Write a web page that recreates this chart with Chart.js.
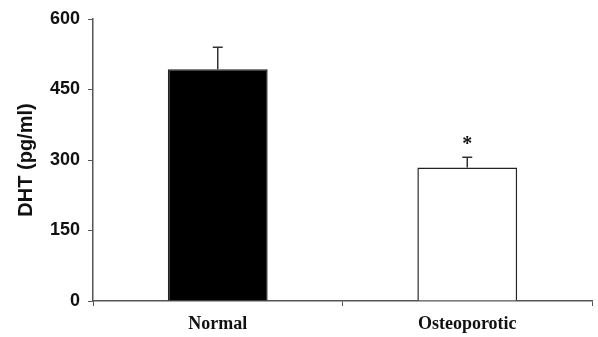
<!DOCTYPE html>
<html>
<head>
<meta charset="utf-8">
<script src="https://cdn.jsdelivr.net/npm/chart.js@4"></script>
<style>
  html, body { margin: 0; padding: 0; background: #fff; }
  #wrap { width: 598px; height: 337px; }
</style>
</head>
<body>
<div id="wrap"><canvas id="dhtChart"></canvas></div>
<script>
// values
const groups = ['Normal', 'Osteoporotic'];
const dhtMean = [493, 284];
const dhtError = [47, 22];
const marks = ['', '*'];
const barFill = ['#000000', '#ffffff'];
const yTicks = [0, 150, 300, 450, 600];

const axisColor = '#555';

// upward error bars with caps + significance marks
const errorBars = {
  id: 'errorBars',
  afterDatasetsDraw(chart) {
    const ctx = chart.ctx;
    const y = chart.scales.y;
    const meta = chart.getDatasetMeta(0);
    ctx.save();
    meta.data.forEach((bar, i) => {
      const top = y.getPixelForValue(dhtMean[i] + dhtError[i]);
      const base = y.getPixelForValue(dhtMean[i]);
      ctx.strokeStyle = '#333';
      ctx.lineWidth = 1.5;
      ctx.beginPath();
      ctx.moveTo(bar.x, base);
      ctx.lineTo(bar.x, top);
      ctx.moveTo(bar.x - 5, top);
      ctx.lineTo(bar.x + 5, top);
      ctx.stroke();
      if (marks[i]) {
        ctx.fillStyle = '#111';
        ctx.font = 'bold 20px "Liberation Serif", serif';
        ctx.textAlign = 'center';
        ctx.textBaseline = 'alphabetic';
        ctx.fillText(marks[i], bar.x, top - 7);
      }
    });
    ctx.restore();
  }
};

const ctx = document.getElementById('dhtChart').getContext('2d');
new Chart(ctx, {
  type: 'bar',
  data: {
    labels: groups,
    datasets: [{
      data: dhtMean,
      backgroundColor: barFill,
      borderColor: '#222',
      borderWidth: 1.5,
      barPercentage: 0.8,
      categoryPercentage: 0.5
    }]
  },
  options: {
    responsive: true,
    maintainAspectRatio: false,
    animation: false,
    layout: { padding: { top: 19, right: 6, left: 0, bottom: 0 } },
    scales: {
      x: {
        offset: true,
        grid: {
          offset: true,
          drawOnChartArea: false,
          tickLength: 5,
          color: axisColor
        },
        border: { color: axisColor, width: 1.5 },
        ticks: {
          color: '#111',
          padding: 8,
          font: { family: '"Liberation Serif", serif', size: 18, weight: 'bold' }
        },
        afterFit: (scale) => { scale.height = 36; }
      },
      y: {
        min: 0,
        max: 600,
        afterBuildTicks: (scale) => { scale.ticks = yTicks.map(v => ({ value: v })); },
        grid: {
          drawOnChartArea: false,
          tickLength: 5,
          color: axisColor
        },
        border: { color: axisColor, width: 1.5 },
        ticks: {
          color: '#111',
          padding: 8,
          font: { family: '"Liberation Sans", Arial, sans-serif', size: 18, weight: 'bold' }
        },
        title: {
          display: true,
          text: 'DHT (pg/ml)',
          color: '#111',
          padding: { top: 14, bottom: 0 },
          font: { family: '"Liberation Sans", Arial, sans-serif', size: 20, weight: 'bold' }
        },
        afterFit: (scale) => { scale.width = 93; }
      }
    },
    plugins: {
      legend: { display: false },
      title: { display: false },
      tooltip: { enabled: false }
    }
  },
  plugins: [errorBars]
});
</script>
</body>
</html>
